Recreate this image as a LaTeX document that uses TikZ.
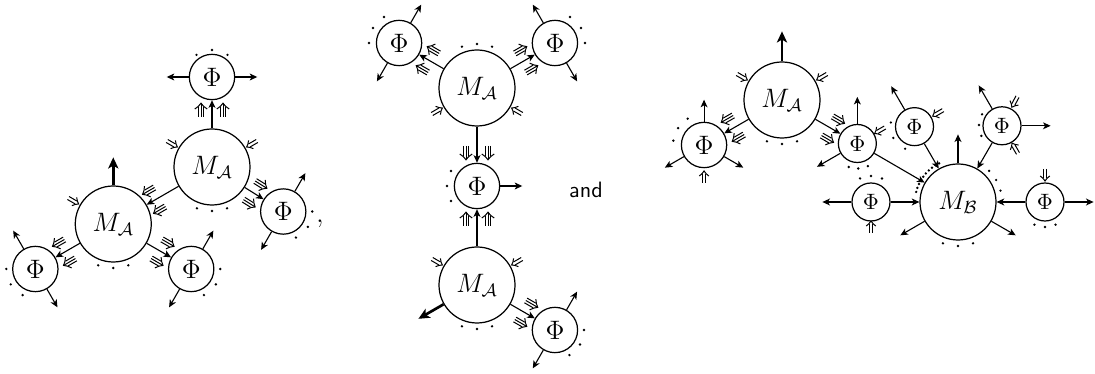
\documentclass[tikz,border=0pt]{standalone}
\usepackage{amsmath,amssymb}
\usetikzlibrary{calc,arrows.meta}
\newcommand\mtrip[2]{\begin{scope}[shift={#1},rotate=#2,mk]
 \draw (-7,-2.7)--(3,-2.7) (-7,0)--(6.5,0) (-7,2.7)--(3,2.7);
 \draw (1,6.2) .. controls (3,3.5) and (4.5,1.2) .. (6.8,0) .. controls (4.5,-1.2) and (3,-3.5) .. (1,-6.2);
\end{scope}}
\newcommand\mdoub[2]{\begin{scope}[shift={#1},rotate=#2,mk]
 \draw (-6,-1.7)--(3,-1.7) (-6,1.7)--(3,1.7);
 \draw (1,4.8) .. controls (2.5,2.8) and (4,1) .. (6,0) .. controls (4,-1) and (2.5,-2.8) .. (1,-4.8);
\end{scope}}
\newcommand\tpair[3]{%
 \mtrip{($(#1)+(#2:#3)+(#2+90:11)$)}{#2+180}
 \mtrip{($(#1)+(#2:#3)+(#2-90:11)$)}{#2+180}}
\newcommand\dotsat[3]{\foreach \a in {#3} \fill ($(#1)+(\a:#2)$) circle[radius=0.6pt];}
\begin{document}
\begin{tikzpicture}[x=0.45pt,y=0.45pt,
  >={Stealth[length=3.4pt,width=3.1pt,inset=0.9pt]},
  bigc/.style={circle,draw,line width=0.55pt,minimum size=34.2pt,inner sep=0pt,font=\large},
  phic/.style={circle,draw,line width=0.55pt,minimum size=20.4pt,inner sep=0pt,font=\large},
  phis/.style={circle,draw,line width=0.55pt,minimum size=17.1pt,inner sep=0pt,font=\normalsize},
  edge/.style={->,line width=0.5pt},
  stub/.style={->,line width=0.5pt},
  thickarr/.style={-{Stealth[length=5pt,width=4.6pt,inset=1.3pt]},line width=1.2pt},
  mk/.style={line width=0.45pt}]
\useasboundingbox (0,0) rectangle (1095,374);
% ---------- diagram 1
\node[bigc] (MA1) at (212,207) {$M_{\mathcal A}$};
\node[phic] (P1) at ($(MA1)+(90:90)$) {$\Phi$};
\node[bigc] (MA2) at ($(MA1)+(210:114)$) {$M_{\mathcal A}$};
\node[phic] (P2) at ($(MA1)+(-32:84)$) {$\Phi$};
\node[phic] (P3) at ($(MA2)+(210:90)$) {$\Phi$};
\node[phic] (P4) at ($(MA2)+(-30:90)$) {$\Phi$};
\draw[edge] (MA1) -- (P1);
\draw[edge] (MA1) -- (MA2);
\draw[edge] (MA1) -- (P2);
\draw[edge] (MA2) -- (P3);
\draw[edge] (MA2) -- (P4);
\tpair{P1}{270}{33}
\tpair{MA2}{30}{47}
\tpair{P2}{148}{33}
\tpair{P3}{30}{33}
\tpair{P4}{150}{33}
\mdoub{($(MA1)+(150:46)$)}{-30}
\mdoub{($(MA1)+(30:46)$)}{210}
\mdoub{($(MA2)+(150:46)$)}{-30}
\draw[thickarr] (MA2.north) -- ++(0,28);
\dotsat{MA1}{44}{250,270,290}
\dotsat{MA2}{44}{250,270,290}
\draw[stub] (P1.180) -- ++(180:22);
\draw[stub] (P1.0) -- ++(0:22);
\dotsat{P1}{27}{55,90,125}
\draw[stub] (P2.60) -- ++(60:21);
\draw[stub] (P2.240) -- ++(240:21);
\dotsat{P2}{29}{0,-32,-64}
\draw[stub] (P3.120) -- ++(120:21);
\draw[stub] (P3.300) -- ++(300:21);
\dotsat{P3}{29}{180,212,244}
\draw[stub] (P4.60) -- ++(60:21);
\draw[stub] (P4.240) -- ++(240:21);
\dotsat{P4}{29}{0,-32,-64}
\node (comma) at (320,150) {\large$,$};
% ---------- diagram 2
\node[bigc] (MA3) at (477,286) {$M_{\mathcal A}$};
\node[phic] (P5) at ($(MA3)+(150:90)$) {$\Phi$};
\node[phic] (P7) at ($(MA3)+(30:90)$) {$\Phi$};
\node[phic] (P6) at (477,188) {$\Phi$};
\node[bigc] (MA4) at (477,89) {$M_{\mathcal A}$};
\node[phic] (P8) at ($(MA4)+(-30:90)$) {$\Phi$};
\draw[edge] (MA3) -- (P5);
\draw[edge] (MA3) -- (P7);
\draw[edge] (MA3) -- (P6);
\draw[edge] (MA4) -- (P6);
\draw[edge] (MA4) -- (P8);
\tpair{P5}{-30}{33}
\tpair{P7}{210}{33}
\tpair{P6}{90}{33}
\tpair{P6}{270}{33}
\tpair{P8}{150}{33}
\mdoub{($(MA3)+(210:46)$)}{30}
\mdoub{($(MA3)+(330:46)$)}{150}
\mdoub{($(MA4)+(150:46)$)}{-30}
\mdoub{($(MA4)+(30:46)$)}{210}
\dotsat{MA3}{44}{70,90,110}
\dotsat{MA4}{44}{250,270,290}
\draw[thickarr] (MA4.210) -- ++(210:29);
\draw[stub] (P5.60) -- ++(60:21);
\draw[stub] (P5.240) -- ++(240:21);
\dotsat{P5}{30}{120,150,180}
\draw[stub] (P7.120) -- ++(120:21);
\draw[stub] (P7.300) -- ++(300:21);
\dotsat{P7}{30}{60,30,0}
\draw[stub] (P6.0) -- ++(0:22);
\dotsat{P6}{30}{150,180,210}
\draw[stub] (P8.60) -- ++(60:21);
\draw[stub] (P8.240) -- ++(240:21);
\dotsat{P8}{29}{0,-30,-60}
\node[font=\sffamily] (and) at (586,184) {and};
% ---------- diagram 3
\node[bigc] (MA5) at (782,274) {$M_{\mathcal A}$};
\node[phic] (P9) at ($(MA5)+(210:90)$) {$\Phi$};
\node[phis] (P10) at ($(MA5)+(-30:87)$) {$\Phi$};
\node[bigc] (MB) at (958,172) {$M_{\mathcal B}$};
\node[phis] (P11) at ($(MB)+(120:87)$) {$\Phi$};
\node[phis] (P12) at ($(MB)+(60:88)$) {$\Phi$};
\node[phis] (P13) at ($(MB)+(180:87)$) {$\Phi$};
\node[phis] (P14) at ($(MB)+(0:87)$) {$\Phi$};
\draw[edge] (MA5) -- (P9);
\draw[edge] (MA5) -- (P10);
\draw[edge] (P10) -- (MB);
\draw[edge] (P11) -- (MB);
\draw[edge] (P12) -- (MB);
\draw[edge] (P13) -- (MB);
\draw[edge] (P14) -- (MB);
\tpair{P9}{30}{33}
\tpair{P10}{150}{28}
\mdoub{($(MA5)+(150:46)$)}{-30}
\mdoub{($(MA5)+(30:46)$)}{210}
\draw[thickarr] (MA5.north) -- ++(0,30);
\dotsat{MA5}{44}{250,270,290}
\draw[stub] (P9.90) -- ++(90:22);
\draw[stub] (P9.210) -- ++(210:22);
\draw[stub] (P9.330) -- ++(330:22);
\dotsat{P9}{31}{122,147,172}
\mdoub{($(P9)+(270:32)$)}{90}
\draw[stub] (P10.90) -- ++(90:27);
\draw[stub] (P10.210) -- ++(210:27);
\mdoub{($(P10)+(30:26)$)}{210}
\dotsat{P10}{25}{250,272,295}
\draw[stub] (P11.120) -- ++(120:27);
\mdoub{($(P11)+(30:27)$)}{210}
\dotsat{P11}{24}{170,208,247}
\draw[stub] (P12.120) -- ++(120:27);
\draw[stub] (P12.0) -- ++(0:29);
\mdoub{($(P12)+(62:27)$)}{242}
\mdoub{($(P12)+(-60:26)$)}{120}
\dotsat{P12}{23}{150,178,206}
\draw[stub] (MB.90) -- ++(90:29);
\draw[stub] (MB.210) -- ++(210:28);
\draw[stub] (MB.330) -- ++(330:28);
\dotsat{MB}{44}{250,270,290}
\dotsat{MB}{44}{15,30,45}
\dotsat{MB}{43}{116,121.6,...,172}
\draw[stub] (P13.180) -- ++(180:29);
\dotsat{P13}{26}{65,90,115}
\mdoub{($(P13)+(270:25)$)}{90}
\draw[stub] (P14.0) -- ++(0:29);
\mdoub{($(P14)+(90:27)$)}{270}
\dotsat{P14}{25}{245,270,295}
\end{tikzpicture}
\end{document}
